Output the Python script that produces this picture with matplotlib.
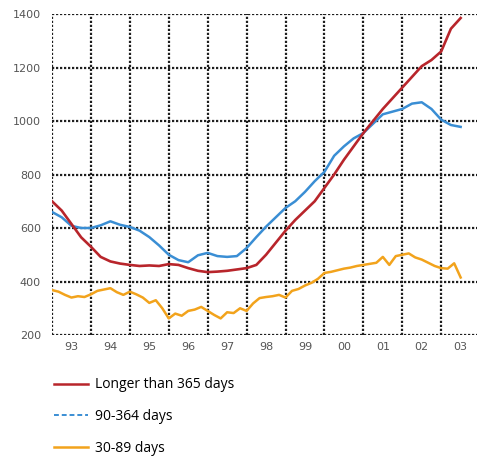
import numpy as np
import matplotlib
matplotlib.use("Agg")
import matplotlib.pyplot as plt
from matplotlib.lines import Line2D

# quarterly points, 1993.0 .. 2003.5
t_q = 1993 + np.arange(43) / 4.0
long_term = [700, 665, 615, 565, 530, 492, 475, 467, 462, 458, 460, 458,
             465, 462, 450, 440, 435, 437, 440, 445, 450, 462, 500, 545,
             590, 630, 665, 700, 750, 800, 855, 905, 955, 1000, 1045, 1085,
             1125, 1165, 1205, 1228, 1260, 1345, 1385]
mid_term = [660, 640, 608, 600, 600, 610, 625, 612, 604, 590, 566, 535,
            500, 480, 472, 498, 507, 495, 492, 495, 525, 566, 605, 640,
            675, 700, 735, 775, 810, 870, 905, 935, 955, 990, 1025, 1035,
            1045, 1065, 1070, 1045, 1005, 985, 978]

# bi-monthly points, 1993.0 .. 2003.5
t_b = 1993 + np.arange(64) / 6.0
short_term = [368, 362, 350, 340, 345, 342, 352, 365, 370, 375, 360, 350,
              362, 352, 340, 320, 330, 300, 262, 280, 272, 290, 295, 305,
              290, 275, 262, 285, 282, 300, 290, 318, 338, 342, 345, 350,
              340, 365, 372, 385, 395, 410, 432, 436, 442, 448, 452, 458,
              462, 466, 470, 492, 462, 495, 500, 505, 490, 482, 470, 458,
              450, 448, 468, 415]

year_labels = ['93', '94', '95', '96', '97', '98', '99', '00', '01', '02', '03']
y_ticks = [200, 400, 600, 800, 1000, 1200, 1400]
names = ['Longer than 365 days', '90-364 days', '30-89 days']
red, blue, orange = '#b8252b', '#3a8ed4', '#f2a31c'

fig = plt.figure(figsize=(4.78, 4.62), dpi=100)
ax = fig.add_axes([52/478, 1-335/462, 425/478, 321/462])

ax.plot(t_b, short_term, color=orange, lw=1.8, zorder=3)
ax.plot(t_q, mid_term, color=blue, lw=1.8, zorder=4)
ax.plot(t_q, long_term, color=red, lw=1.9, zorder=5)

ax.set_xlim(1993, 2003.92)
ax.set_ylim(200, 1400)
ax.set_xticks(np.arange(1993, 2004))
ax.set_xticks(np.arange(1993, 2004) + 0.5, minor=True)
ax.set_xticklabels([])
ax.set_xticklabels(year_labels, minor=True)
ax.set_yticks(y_ticks)
ax.set_yticklabels([str(v) for v in y_ticks])
ax.tick_params(which='both', length=0, labelsize=8, labelcolor='#555555')
ax.tick_params(axis='x', which='minor', pad=5)
ax.tick_params(axis='y', pad=8)

ax.grid(True, which='major', color='#1e1e1e', lw=1.6, ls=(0, (1, 0.8)))
for s in ax.spines.values():
    s.set_visible(False)

# legend below the chart
handles = [Line2D([], [], color=red, lw=1.8),
           Line2D([], [], color=blue, lw=1.4, ls=(0, (2.5, 1.5))),
           Line2D([], [], color=orange, lw=1.8)]
fig.legend(handles, names, loc='upper left', bbox_to_anchor=(41/478, 1-365/462),
           frameon=False, handlelength=2.5, handletextpad=0.5, labelspacing=1.2,
           prop={'family': 'Open Sans', 'size': 10})

fig.savefig('out.png', dpi=100)
